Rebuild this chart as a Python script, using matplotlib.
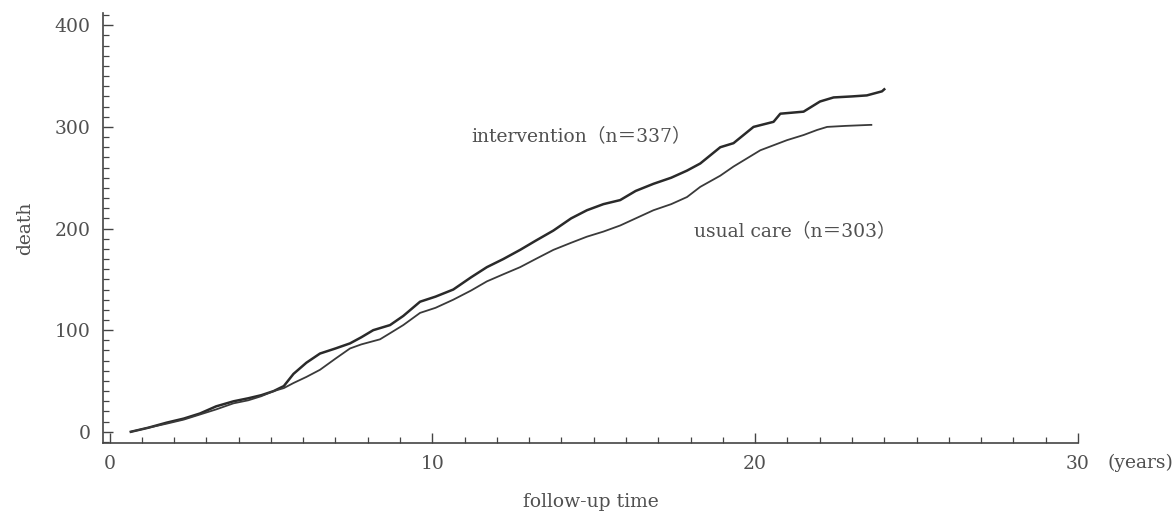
import matplotlib
matplotlib.use("Agg")
import matplotlib.pyplot as plt
from matplotlib.ticker import MultipleLocator

# cumulative deaths (years, deaths)
interv_years = [0.66, 1.20, 1.77, 2.30, 2.80, 3.30, 3.84, 4.30, 4.70, 5.08, 5.40,
                5.70, 6.10, 6.52, 7.00, 7.45, 7.80, 8.17, 8.69, 9.10, 9.62, 10.10,
                10.65, 11.20, 11.69, 12.20, 12.72, 13.20, 13.75, 14.30, 14.79,
                15.30, 15.82, 16.30, 16.85, 17.40, 17.89, 18.30, 18.92, 19.33,
                19.95, 20.57, 20.78, 21.50, 22.01, 22.43, 23.00, 23.46, 23.93, 24.00]
interv_deaths = [0, 4, 9, 13, 18, 25, 30, 33, 36, 40, 45,
                 57, 68, 77, 82, 87, 93, 100, 105, 114, 128, 133,
                 140, 152, 162, 170, 179, 188, 198, 210, 218,
                 224, 228, 237, 244, 250, 257, 264, 280, 284,
                 300, 305, 313, 315, 325, 329, 330, 331, 335, 337]

usual_years = [0.66, 1.20, 1.77, 2.30, 2.80, 3.30, 3.84, 4.30, 4.70, 5.08, 5.40,
               5.70, 6.10, 6.52, 7.00, 7.45, 7.80, 8.38, 8.69, 9.10, 9.62, 10.10,
               10.65, 11.20, 11.69, 12.20, 12.72, 13.20, 13.75, 14.30, 14.79,
               15.30, 15.82, 16.30, 16.85, 17.40, 17.89, 18.30, 18.92, 19.33,
               20.16, 20.99, 21.50, 21.92, 22.23, 22.80, 23.57, 23.60]
usual_deaths = [0, 4, 8, 12, 17, 22, 28, 31, 35, 40, 43,
                48, 54, 61, 72, 82, 86, 91, 97, 105, 117, 122,
                130, 139, 148, 155, 162, 170, 179, 186, 192,
                197, 203, 210, 218, 224, 231, 241, 252, 261,
                277, 287, 292, 297, 300, 301, 302, 302]

labels = ["intervention（n＝337）", "usual care（n＝303）"]

plt.rcParams['font.family'] = ['DejaVu Serif', 'Noto Sans CJK JP']
text_col = '#505050'
fs = 13.5

fig = plt.figure(figsize=(11.75, 5.13), dpi=100)
ax = fig.add_axes([0.0877, 0.1365, 0.8297, 0.838])

ax.plot(interv_years, interv_deaths, color='#2a2a2a', lw=1.8)
ax.plot(usual_years, usual_deaths, color='#3a3a3a', lw=1.3)

ax.set_xlim(-0.2, 30)
ax.set_ylim(-11, 412)

ax.spines['top'].set_visible(False)
ax.spines['right'].set_visible(False)
for s in ['left', 'bottom']:
    ax.spines[s].set_color('#444444')
    ax.spines[s].set_linewidth(1.2)

ax.xaxis.set_major_locator(MultipleLocator(10))
ax.xaxis.set_minor_locator(MultipleLocator(1))
ax.yaxis.set_major_locator(MultipleLocator(100))
ax.yaxis.set_minor_locator(MultipleLocator(10))
ax.tick_params(which='major', direction='in', length=7, width=1, color='#444444',
               labelsize=fs, labelcolor=text_col, pad=9)
ax.tick_params(which='minor', direction='in', length=4, width=0.9, color='#444444')

# unit next to the last x tick label
ax.annotate("(years)", xy=(30, 0), xycoords=('data', 'axes fraction'),
            xytext=(21, -14.5), textcoords='offset points', ha='left', va='center',
            fontsize=fs, color=text_col, annotation_clip=False)

ax.set_xlabel("follow-up time", fontsize=fs, color=text_col, labelpad=14)
ax.set_ylabel("death", fontsize=fs, color=text_col, labelpad=15)

ax.text(11.2, 291, labels[0], ha='left', va='center', fontsize=fs, color=text_col)
ax.text(18.1, 197, labels[1], ha='left', va='center', fontsize=fs, color=text_col)

fig.savefig("out.png", dpi=100)
